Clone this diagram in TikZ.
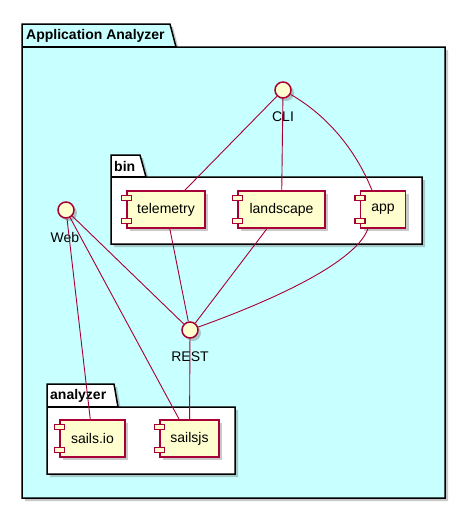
\documentclass[tikz,border=0pt]{standalone}
\usepackage{fontspec}
\setmainfont{Liberation Sans}
\usetikzlibrary{shadows}
\definecolor{pkgcyan}{RGB}{200,255,255}
\definecolor{compfill}{RGB}{254,254,206}
\definecolor{compline}{RGB}{168,0,54}
\newcommand\compfont{\fontsize{14}{16}\selectfont}
\tikzset{
  pkgline/.style={draw=black,line width=1.5pt},
  shad/.style={drop shadow={shadow xshift=3pt,shadow yshift=-3pt,opacity=0.35,fill=black!60}},
  comp/.style={shad,draw=compline,fill=compfill,line width=1.2pt,rectangle,minimum height=37pt,inner sep=0pt},
  iface/.style={shad,draw=compline,fill=compfill,line width=1.5pt,circle,minimum size=16pt,inner sep=0pt},
  ilabel/.style={font=\compfont,inner sep=0pt},
  conn/.style={draw=compline,line width=0.9pt},
  knob/.style={draw=compline,fill=compfill,line width=1.2pt},
  pkgtitle/.style={font=\bfseries\fontsize{14}{16}\selectfont,inner sep=0pt,anchor=west}
}
\begin{document}
\begin{tikzpicture}[x=1pt,y=-1pt]
\useasboundingbox[fill=white] (0,0) rectangle (466,509);
% outer package
\path[pkgline,fill=pkgcyan,shad] (22,47) -- (22,24) -- (170,24) -- (176,47) -- (445,47) -- (445,498) -- (22,498) -- cycle;
\draw[pkgline] (22,47) -- (176,47);
\node[pkgtitle] (tAA) at (26,36) {Application Analyzer};
% bin package
\path[pkgline,fill=white,shad] (111,177) -- (111,155) -- (140,155) -- (146,177) -- (422,177) -- (422,244) -- (111,244) -- cycle;
\draw[pkgline] (111,177) -- (146,177);
\node[pkgtitle] (tbin) at (114,166) {bin};
% analyzer package
\path[pkgline,fill=white,shad] (47,407) -- (47,384) -- (114,384) -- (118,407) -- (235,407) -- (235,474) -- (47,474) -- cycle;
\draw[pkgline] (47,407) -- (118,407);
\node[pkgtitle] (tan) at (50,396) {analyzer};
% components
\node[comp,minimum width=78pt] (tel) at (166,209.5) {\compfont telemetry};
\node[comp,minimum width=87pt] (land) at (281.5,209.5) {\compfont landscape};
\node[comp,minimum width=45pt] (app) at (383,209.5) {\compfont app};
\node[comp,minimum width=65pt] (sio) at (92.5,438.5) {\compfont sails.io};
\node[comp,minimum width=59pt] (sjs) at (189.5,438.5) {\compfont sailsjs};
\foreach \c in {tel,land,app,sio,sjs}{
  \draw[knob] ([xshift=-5pt,yshift=-5pt]\c.north west) rectangle ([xshift=5pt,yshift=-10pt]\c.north west);
  \draw[knob] ([xshift=-5pt,yshift=10pt]\c.south west) rectangle ([xshift=5pt,yshift=5pt]\c.south west);
}
% interfaces
\node[iface] (cli) at (283,90) {};
\node[iface] (web) at (66,210) {};
\node[iface] (rest) at (190,330) {};
\node[ilabel] (lcli) at (283,117) {CLI};
\node[ilabel] (lweb) at (65,237) {Web};
\node[ilabel] (lrest) at (190,357) {REST};
% connectors
\draw[conn] (cli) -- (tel);
\draw[conn] (cli) -- (land);
\draw[conn] (cli) .. controls (335,120) and (360,160) .. ([xshift=-11pt]app.north);
\draw[conn] (tel) -- (rest);
\draw[conn] (land) -- (rest);
\draw[conn] ([xshift=-15pt]app.south) .. controls (355,265) and (260,305) .. (rest);
\draw[conn] (web) -- (rest);
\draw[conn] (web) -- (sio);
\draw[conn] (web) -- (sjs);
\draw[conn] (rest) -- (sjs);
\end{tikzpicture}
\end{document}
